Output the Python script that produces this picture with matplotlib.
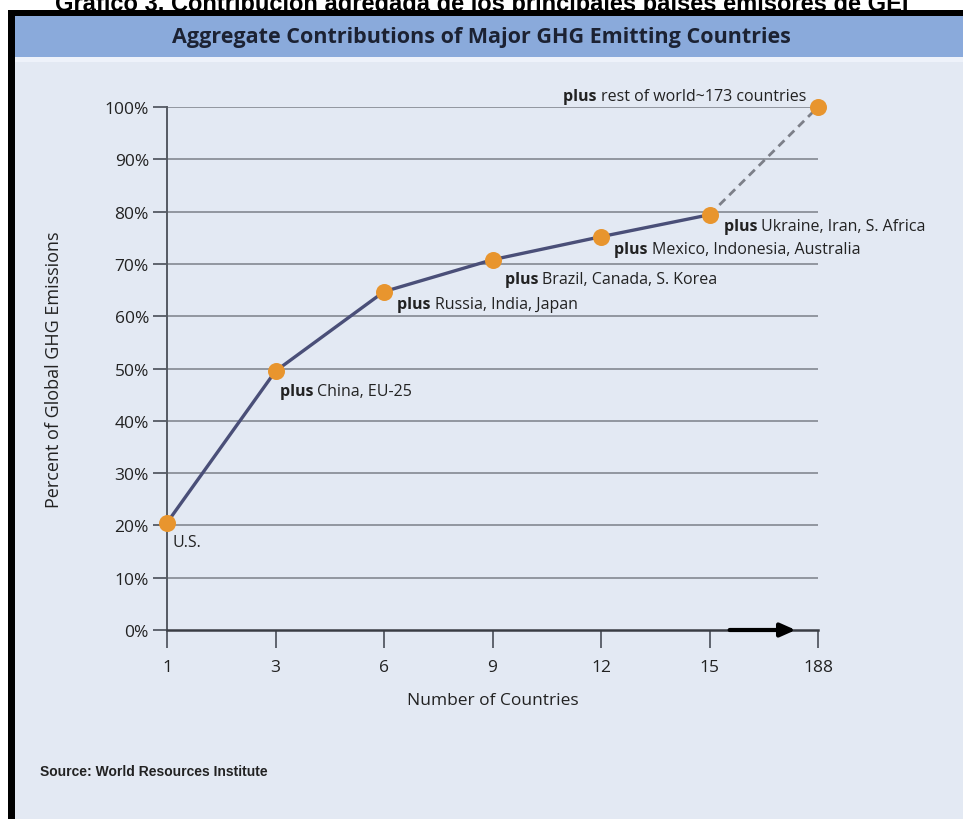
import matplotlib
matplotlib.use("Agg")
import matplotlib.pyplot as plt
from matplotlib.patches import Rectangle

# data
countries = ["1", "3", "6", "9", "12", "15", "188"]
share = [20.5, 49.5, 64.7, 70.8, 75.2, 79.4, 100.0]
added = ["U.S.", "China, EU-25", "Russia, India, Japan", "Brazil, Canada, S. Korea",
         "Mexico, Indonesia, Australia", "Ukraine, Iran, S. Africa", "rest of world~173 countries"]
yticks = list(range(0, 101, 10))

W, H = 963, 820
plt.rcParams["font.family"] = ["Open Sans", "DejaVu Sans"]

fig = plt.figure(figsize=(W / 100, H / 100), dpi=100)
fig.patch.set_facecolor("white")

def px_rect(x0, y0, x1, y1, color, z=-1):
    # rectangle in pixel coords measured from top-left
    fig.patches.append(Rectangle((x0 / W, 1 - y1 / H), (x1 - x0) / W, (y1 - y0) / H,
                                 transform=fig.transFigure, color=color, zorder=z, lw=0))

# panel, header band and black frame
px_rect(15, 17, W, H, "#e3e9f3")
px_rect(15, 17, W, 58, "#8aaadb")
px_rect(15, 58, W, 63, "#eef2fa")
px_rect(8, 11, W, 17, "black", 5)
px_rect(8, 11, 15, H, "black", 5)

# outer caption, cut by the frame like in the source image
fig.text(0.5, 1 - 10.5 / H, "Gráfico 3. Contribución agregada de los principales países emisores de GEI",
         ha="center", va="baseline", fontsize=17, fontweight="bold", family="Liberation Sans",
         zorder=4)
fig.text(0.5, 1 - 38 / H, "Aggregate Contributions of Major GHG Emitting Countries",
         ha="center", va="center", fontsize=15.5, fontweight="bold", color="#1c2233")

ax = fig.add_axes([167 / W, (H - 631) / H, (818 - 167) / W, (631 - 108) / H])
ax.set_facecolor("none")
x = list(range(len(countries)))
ax.set_xlim(0, len(countries) - 1)
ax.set_ylim(0, 100)

for v in yticks[1:]:
    ax.axhline(v, color="#8b9099", lw=1.3, zorder=1)

ax.plot(x[:-1], share[:-1], color="#4a4f78", lw=2.4, zorder=3, clip_on=False)
ax.plot(x[-2:], share[-2:], color="#7c7f88", lw=2, ls=(0, (3, 2)), zorder=3, clip_on=False)
ax.scatter(x, share, s=150, color="#e8952e", zorder=4, clip_on=False, linewidths=0)

for s in ["top", "right"]:
    ax.spines[s].set_visible(False)
ax.spines["left"].set_color("#555a63")
ax.spines["left"].set_linewidth(1.4)
ax.spines["bottom"].set_color("#3a3d44")
ax.spines["bottom"].set_linewidth(1.8)

ax.set_xticks(x)
ax.set_xticklabels(countries)
ax.set_yticks(yticks)
ax.set_yticklabels([f"{v}%" for v in yticks])
ax.tick_params(axis="y", length=10, width=1.3, color="#555a63", pad=3, labelsize=12.5, labelcolor="#222")
ax.tick_params(axis="x", length=13, width=1.3, color="#555a63", pad=8, labelsize=12.5, labelcolor="#222")

ax.set_xlabel("Number of Countries", fontsize=12.5, color="#222", labelpad=12)
ax.set_ylabel("Percent of Global GHG Emissions", fontsize=13, color="#222", labelpad=30)

# labels next to each point: bold "plus" followed by the countries
offsets = [(5, -19), (4, -20), (13, -12), (12, -19), (13, -12), (14, -11), (-12, 11)]
fs = 11.5
for i, (xi, yi) in enumerate(zip(x, share)):
    dx, dy = offsets[i]
    if i == 0:
        ax.annotate(added[i], (xi, yi), xytext=(dx, dy), textcoords="offset pixels",
                    ha="left", va="center", fontsize=fs, color="#222")
        continue
    if i == len(x) - 1:
        rest = ax.annotate(added[i], (xi, yi), xytext=(dx, dy), textcoords="offset pixels",
                           ha="right", va="center", fontsize=fs, color="#222")
        ax.annotate("plus ", (0, 0.5), xycoords=rest, ha="right", va="center",
                    fontsize=fs, fontweight="bold", color="#222")
        continue
    p = ax.annotate("plus ", (xi, yi), xytext=(dx, dy), textcoords="offset pixels",
                    ha="left", va="center", fontsize=fs, fontweight="bold", color="#222")
    ax.annotate(added[i], (1, 0.5), xycoords=p, ha="left", va="center",
                fontsize=fs, color="#222")

# arrow on the x axis towards 188
ax.annotate("", xy=(0.97, 0), xytext=(0.86, 0), xycoords="axes fraction",
            arrowprops=dict(arrowstyle="-|>,head_length=0.9,head_width=0.4", color="black", lw=3),
            annotation_clip=False)

fig.text(40 / W, 1 - 772 / H, "Source: World Resources Institute", ha="left", va="center",
         fontsize=10, fontweight="bold", family="Liberation Sans", color="#222")

fig.savefig("out.png", dpi=100, facecolor=fig.get_facecolor())
